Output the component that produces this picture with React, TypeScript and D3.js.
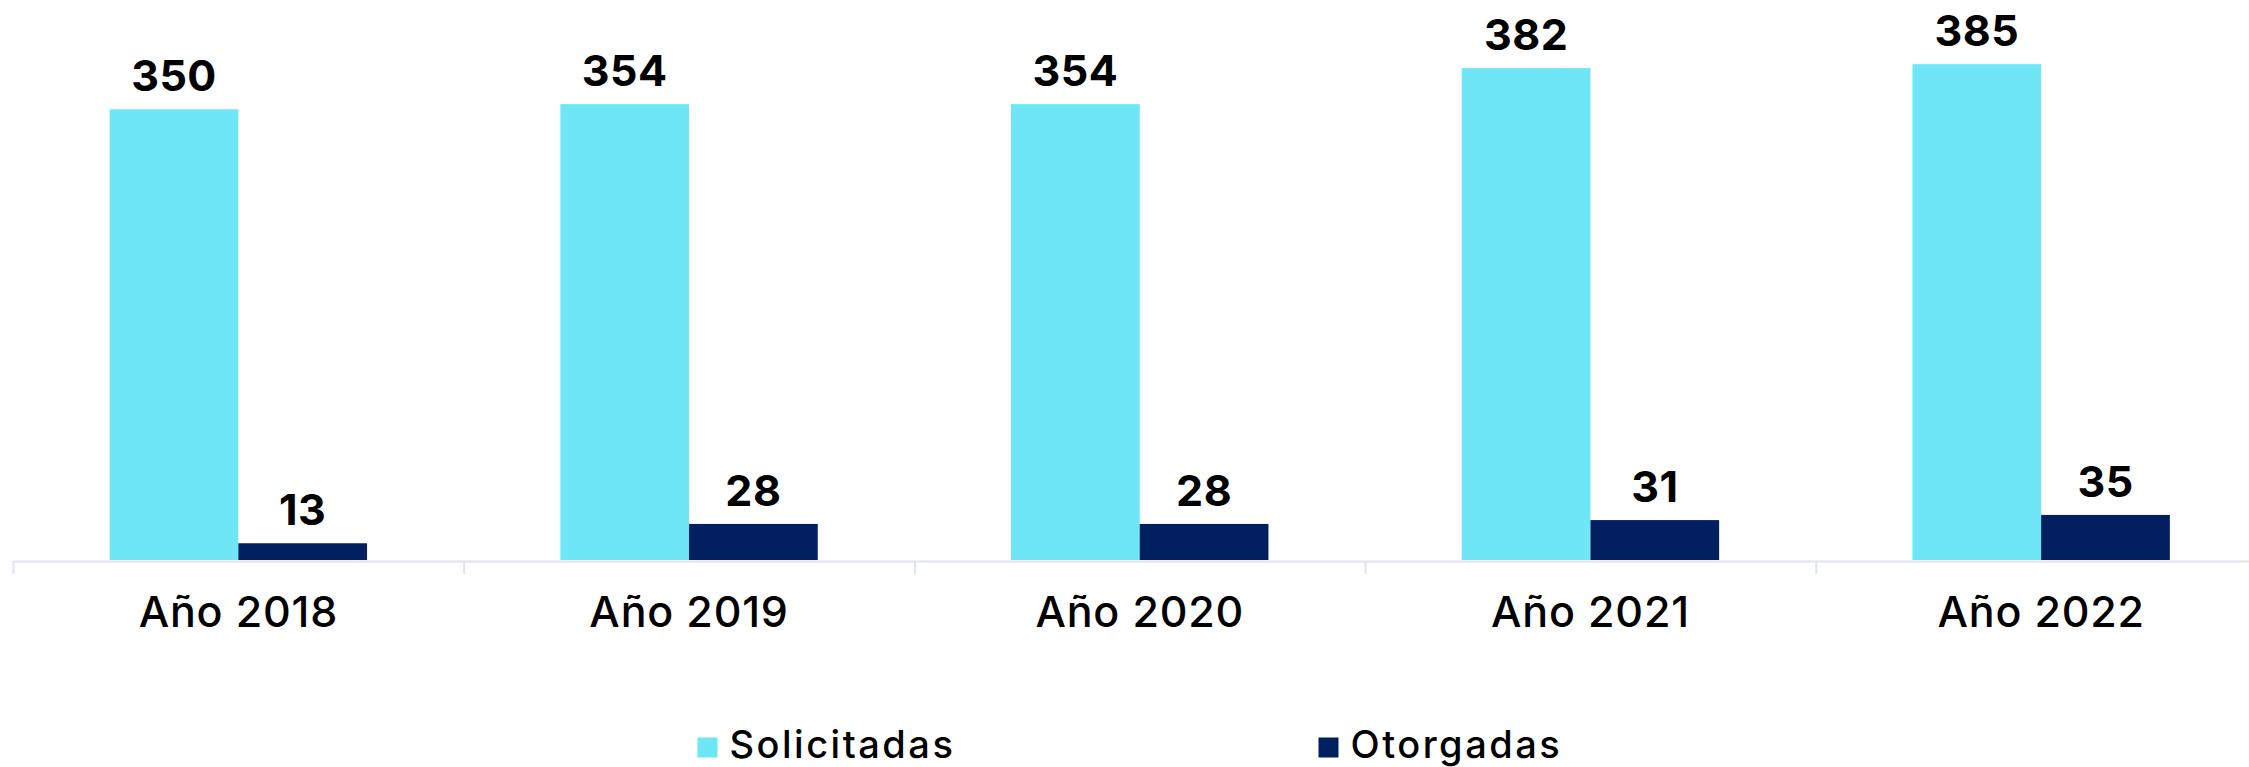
import React from "react";
import * as d3 from "d3";

const categories = ["Año 2018", "Año 2019", "Año 2020", "Año 2021", "Año 2022"];
const seriesNames = ["Solicitadas", "Otorgadas"];
const solicitadas = [350, 354, 354, 382, 385];
const otorgadas = [13, 28, 28, 31, 35];
const colors = ["#6ee6f5", "#02205f"];

const W = 2249;
const H = 767;
const FONT = "Inter, 'Open Sans', sans-serif";

export default function App() {
  const x = d3.scaleBand<string>().domain(categories).range([13, 13 + 450.7 * 5]).paddingInner(0).paddingOuter(0);
  const groupPad = 96.65;
  const inner = d3.scaleBand<string>().domain(seriesNames).range([groupPad, x.bandwidth() - groupPad]).paddingInner(0).paddingOuter(0);
  const y = d3.scaleLinear().domain([0, 400]).range([560, 560 - 400 * 1.2877]);
  const series = [solicitadas, otorgadas];
  const baseY = y(0);

  return (
    <svg width={W} height={H} style={{ position: "absolute", left: 0, top: 0 }} fontFamily={FONT}>
      <rect x={0} y={0} width={W} height={H} fill="#fff" />
      {categories.map((c, i) => (
        <g key={c}>
          {series.map((vals, s) => {
            const bx = (x(c) as number) + (inner(seriesNames[s]) as number);
            const bw = inner.bandwidth();
            const v = vals[i];
            return (
              <g key={s}>
                <rect x={bx} y={y(v)} width={bw} height={baseY - y(v)} fill={colors[s]} />
                <text x={bx + bw / 2} y={y(v) - 18} textAnchor="middle" fontSize={43} fontWeight={700} fill="#000" letterSpacing={0.5}>
                  {v}
                </text>
              </g>
            );
          })}
          <text x={(x(c) as number) + x.bandwidth() / 2} y={626.5} textAnchor="middle" fontSize={43} fontWeight={500} fill="#000" letterSpacing={0.8}>
            {c}
          </text>
        </g>
      ))}
      <line x1={13} x2={W} y1={561.5} y2={561.5} stroke="#dfe3ec" strokeWidth={2} />
      {categories.map((c) => (
        <line key={"t" + c} x1={(x(c) as number) + 0.5} x2={(x(c) as number) + 0.5} y1={561} y2={574} stroke="#dfe3ec" strokeWidth={2} />
      ))}
      {seriesNames.map((n, s) => {
        const lx = [697.5, 1318.5][s];
        return (
          <g key={n}>
            <rect x={lx} y={737.5} width={20} height={20} fill={colors[s]} />
            <text x={lx + 32} y={757.5} fontSize={38} fontWeight={500} fill="#000" letterSpacing={2.5}>
              {n}
            </text>
          </g>
        );
      })}
    </svg>
  );
}
